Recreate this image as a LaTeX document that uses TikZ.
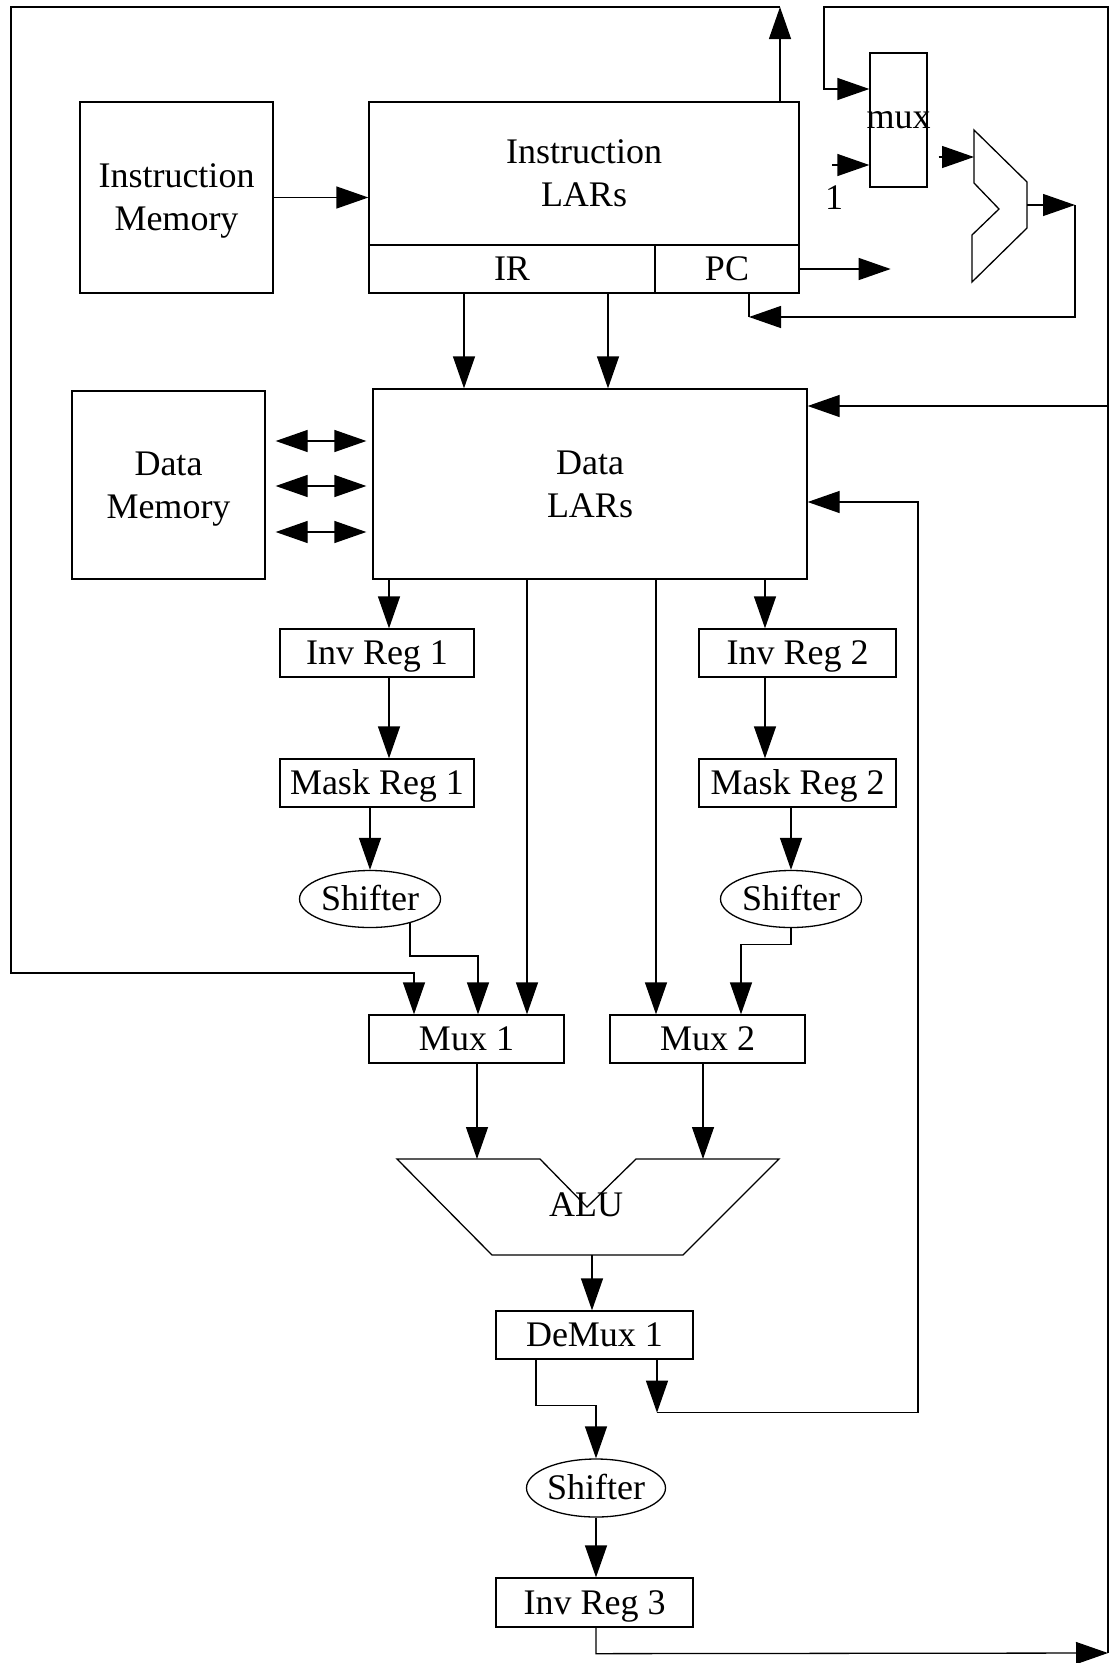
\documentclass[tikz,border=0pt]{standalone}
\usepackage{fontspec}
\setmainfont{Liberation Serif}
\usetikzlibrary{arrows.meta,shapes.geometric,calc}
\begin{document}
\begin{tikzpicture}[
        x=1pt, y=-1pt,
        >={Triangle[length=32pt,width=22pt]},
        every path/.style={line width=1.3pt},
        every node/.style={font=\fontsize{36}{43}\selectfont, inner sep=0pt, align=center},
        oneline/.style={text height=23pt, text depth=0pt},
        reg/.style={draw, oneline, minimum width=195pt, minimum height=48pt},
        bigbox/.style={draw, text depth=0pt},
        oval/.style={draw, ellipse, oneline, minimum width=141pt, minimum height=57pt},
    ]
    \useasboundingbox (0,0) rectangle (1110,1663);
    % instruction side
    \node[bigbox, minimum width=193pt, minimum height=191pt](InstrMem) at (176.5,197.5){Instruction\\Memory};
    \node[bigbox, minimum width=430pt, minimum height=143pt](InstrLARs) at (584,173.5){Instruction\\LARs};
    \node[draw, oneline, minimum width=286pt, minimum height=48pt](IR) at (512,269){IR};
    \node[draw, oneline, minimum width=144pt, minimum height=48pt](PC) at (727,269){PC};
    \node[draw, minimum width=57pt, minimum height=134pt](mux) at (898.5,120){\makebox[0pt]{mux}};
    \node[oneline](one) at (834,198){1};
    \draw (974,130) coordinate(addTL) -- (1027,182) -- (1027,228) -- (972,282)
        -- (972,235) -- (999,209) -- (974,183) -- cycle;
    \coordinate(addOut) at (1027,205);
    \coordinate(addR) at (1075,205);
    \coordinate(pcfb) at (749,317);
    % data side
    \node[bigbox, minimum width=193pt, minimum height=188pt](DataMem) at (168.5,485){Data\\Memory};
    \node[bigbox, minimum width=434pt, minimum height=190pt](DataLARs) at (590,484){Data\\LARs};
    \node[reg, minimum width=194pt](InvReg1) at (377,653){Inv Reg 1};
    \node[reg, minimum width=197pt](InvReg2) at (797.5,653){Inv Reg 2};
    \node[reg, minimum width=194pt](MaskReg1) at (377,783){Mask Reg 1};
    \node[reg, minimum width=197pt](MaskReg2) at (797.5,783){Mask Reg 2};
    \node[oval](Shifter1) at (370,899){Shifter};
    \node[oval](Shifter2) at (791,899){Shifter};
    \node[reg](Mux1) at (466.5,1039){Mux 1};
    \node[reg](Mux2) at (707.5,1039){Mux 2};
    \draw (397,1159) -- (540,1159) -- (587,1207) -- (636,1159) -- (779,1159)
        -- (683,1255) -- (492,1255) -- cycle;
    \node[oneline](ALU) at (586,1205){ALU};
    \coordinate(ALUtop) at (586,1159);
    \coordinate(ALUbot) at (592,1255);
    \node[reg, minimum width=197pt](DeMux1) at (594.5,1335){DeMux 1};
    \node[oval, minimum width=139pt, minimum height=58pt](Shifter3) at (596,1488){Shifter};
    \node[reg, minimum width=197pt, minimum height=49pt](InvReg3) at (594.5,1602.5){Inv Reg 3};
    % frame
    \coordinate(topL) at (780,7);
    \coordinate(frameTL) at (11,7);
    \coordinate(frameBL) at (11,973);
    \coordinate(frameTR) at (1108,7);
    \coordinate(frameBR) at (1108,1653);
    \coordinate(muxfb) at (824,7);
    \coordinate(DLin) at (1108,406);
    \coordinate(fbR) at (918,502);

    \draw[->] (InstrMem.east) -- (InstrMem.east -| InstrLARs.west);
    \draw[->] ([xshift=-48pt]IR.south) -- ([xshift=-48pt]IR.south |- DataLARs.north);
    \draw[->] ([xshift=96pt]IR.south) -- ([xshift=96pt]IR.south |- DataLARs.north);
    \draw[->] (InstrLARs.north -| topL) -- (topL);
    \draw[->] (topL) -- (frameTL) -- (frameBL) -| ([xshift=-52.5pt]Mux1.north);
    \draw[->] (frameBR) -- (frameTR) -- (muxfb) |- ([yshift=31pt]mux.west);
    \draw[->] ([xshift=-37pt,yshift=-45pt]mux.west) -- ([yshift=-45pt]mux.west);
    \draw[->] ([xshift=11pt,yshift=-37pt]mux.east) -- ([yshift=-37pt]mux.east -| addTL);
    \draw[->] (addOut) -- (addR);
    \draw[->] (addR) |- (pcfb);
    \draw ([xshift=22pt]PC.south) -- (pcfb);
    \draw[->] (PC.east) -- ++(91,0);
    \draw[->] (DLin) -- (DLin -| DataLARs.east);
    \foreach \y in {441,486,532}
        \draw[<->] ($(DataMem.east |- 0,\y)+(10,0)$) -- ($(DataLARs.west |- 0,\y)+(-6,0)$);
    \draw[->] ([xshift=-201pt]DataLARs.south) -- ([xshift=-201pt]DataLARs.south |- InvReg1.north);
    \draw[->] ([xshift=175pt]DataLARs.south) -- ([xshift=175pt]DataLARs.south |- InvReg2.north);
    \draw[->] ([xshift=-63pt]DataLARs.south) -- ([xshift=-63pt]DataLARs.south |- Mux1.north);
    \draw[->] ([xshift=66pt]DataLARs.south) -- ([xshift=66pt]DataLARs.south |- Mux2.north);
    \draw[->] ([xshift=12pt]InvReg1.south) -- ([xshift=12pt]MaskReg1.north);
    \draw[->] ([xshift=-32.5pt]InvReg2.south) -- ([xshift=-32.5pt]MaskReg2.north);
    \draw[->] (MaskReg1.south -| Shifter1) -- (Shifter1.north);
    \draw[->] (MaskReg2.south -| Shifter2) -- (Shifter2.north);
    \draw[->] (Shifter1.-31) -- ++(0,33) -| ([xshift=11.5pt]Mux1.north);
    \draw[->] (Shifter2.south) -- ++(0,16) -| ([xshift=33.5pt]Mux2.north);
    \draw[->] ([xshift=10.5pt]Mux1.south) -- ([xshift=10.5pt]Mux1.south |- ALUtop);
    \draw[->] ([xshift=-4.5pt]Mux2.south) -- ([xshift=-4.5pt]Mux2.south |- ALUtop);
    \draw[->] (ALUbot) -- (ALUbot |- DeMux1.north);
    \draw[->] ([xshift=-58.5pt]DeMux1.south) -- ++(0,46) -| (Shifter3.north);
    \draw[->] ([xshift=62.5pt]DeMux1.south) -- ++(0,53) coordinate(fbB);
    \draw[->] (fbB) -| (fbR) -- (fbR -| DataLARs.east);
    \draw[->] (Shifter3.south) -- (Shifter3.south |- InvReg3.north);
    \draw[->] (InvReg3.south -| Shifter3) -- ++(0,26) -- (frameBR);
\end{tikzpicture}
\end{document}
